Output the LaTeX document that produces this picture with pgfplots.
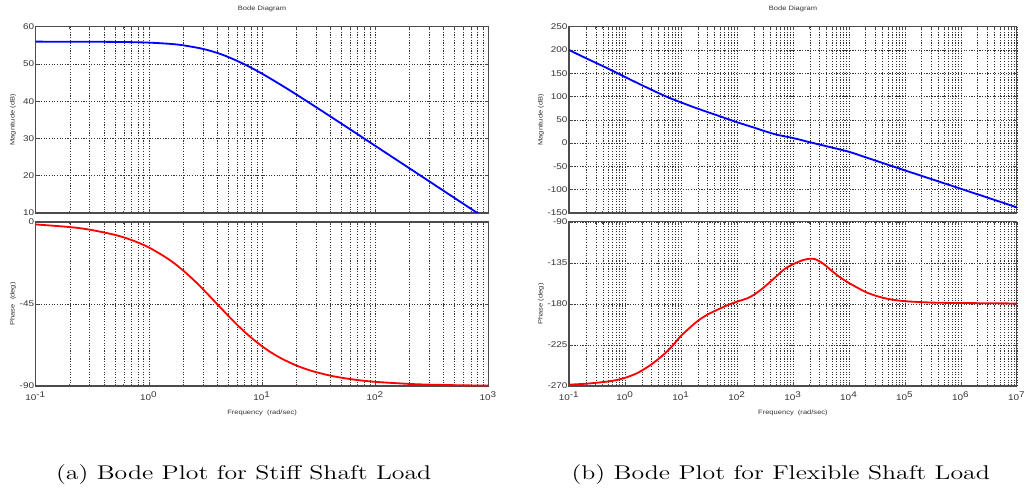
\documentclass[border=0pt]{standalone}
\usepackage{fontspec}
\usepackage{pgfplots}
\pgfplotsset{compat=1.18}
\newfontfamily\mfont{Liberation Sans}[FakeStretch=1.2]
\newfontfamily\capfont{lmroman12-regular}[Extension=.otf, FakeStretch=1.3]

\pgfplotsset{
  bode/.style={
    scale only axis,
    /pgf/number format/assume math mode=true,
    axis line style={black!70, line width=0.8pt},
    grid=both,
    major grid style={black!80, line width=0.35pt, dash pattern=on 0.7pt off 0.9pt},
    minor grid style={black!80, line width=0.35pt, dash pattern=on 0.7pt off 0.9pt},
    tick align=inside, tick pos=both,
    major tick length=2.2pt, minor tick length=1.2pt,
    tick style={black!70, line width=0.4pt},
    tick label style={font=\mfont\fontsize{5}{6}\selectfont, text=black!80},
    yticklabel style={inner sep=0.8pt},
    label style={font=\mfont\fontsize{3.8}{4.5}\selectfont, text=black!80},
    title style={font=\mfont\fontsize{3.8}{4.5}\selectfont, text=black!80},
  },
}

\begin{document}
\begin{tikzpicture}
\path (0,0) rectangle (618.6pt,-292.8pt);

% (a) stiff shaft
\begin{semilogxaxis}[bode, at={(21.6pt,-125pt)}, anchor=south west,
    width=273.6pt, height=112.56pt,
    xmin=0.1, xmax=1000, ymin=10, ymax=60,
    xtick={0.1,1,10,100,1000}, xticklabels={},
    minor xtick={0.2,0.3,0.4,0.5,0.6,0.7,0.8,0.9,2,3,4,5,6,7,8,9,20,30,40,50,60,70,80,90,200,300,400,500,600,700,800,900},
    ytick={10,20,30,40,50,60},
    title={Bode Diagram}, title style={at={(axis description cs:0.5,1.045)}, anchor=center},
    ylabel={Magnitude (dB)}, ylabel style={at={(axis description cs:-0.05,0.5)}, anchor=center}]
\addplot[blue, line width=1.1pt, smooth] coordinates {
 (0.1,56.00) (0.2,55.99) (0.3,55.98) (0.5,55.93) (0.7,55.87) (1,55.74) (1.5,55.43)
 (2,55.03) (3,54.06) (4,52.99) (5,51.91) (7,49.91) (10,47.40) (15,44.22) (20,41.85)
 (30,38.42) (50,34.03) (70,31.13) (100,28.03) (200,22.02) (300,18.50) (500,14.06)
 (700,11.14) (1000,8.04)};
\end{semilogxaxis}

\begin{semilogxaxis}[bode, at={(21.6pt,-229.6pt)}, anchor=south west,
    width=273.6pt, height=99.24pt,
    xmin=0.1, xmax=1000, ymin=-90, ymax=0,
    xtick={0.1,1,10,100,1000},
    xticklabels={10\textsuperscript{-1},10\textsuperscript{0},10\textsuperscript{1},10\textsuperscript{2},10\textsuperscript{3}},
    minor xtick={0.2,0.3,0.4,0.5,0.6,0.7,0.8,0.9,2,3,4,5,6,7,8,9,20,30,40,50,60,70,80,90,200,300,400,500,600,700,800,900},
    ytick={-90,-45,0},
    xlabel={Frequency\ \ (rad/sec)}, xlabel style={at={(axis description cs:0.5,-0.163)}, anchor=center},
    ylabel={Phase\ \ (deg)}, ylabel style={at={(axis description cs:-0.05,0.5)}, anchor=center}]
\addplot[red, line width=1.1pt, smooth] coordinates {
 (0.1,-1.43) (0.2,-2.86) (0.3,-4.29) (0.5,-7.13) (0.7,-9.93) (1,-14.04) (1.5,-20.56)
 (2,-26.57) (2.5,-32.01) (3,-36.87) (4,-45) (5,-51.34) (6,-56.31) (7,-60.26) (8,-63.43)
 (10,-68.20) (12,-71.57) (15,-75.07) (20,-78.69) (25,-80.91)
 (30,-82.41) (40,-84.29) (50,-85.43) (70,-86.73) (100,-87.71) (200,-88.85) (300,-89.24) (500,-89.54)
 (700,-89.67) (1000,-89.77)};
\end{semilogxaxis}

% (b) flexible shaft
\begin{semilogxaxis}[bode, at={(344pt,-125pt)}, anchor=south west,
    width=270.6pt, height=112.56pt,
    xmin=0.1, xmax=1e7, ymin=-150, ymax=250,
    xtick={0.1,1,10,100,1000,1e4,1e5,1e6,1e7}, xticklabels={},
    minor xtick={0.2,0.3,0.4,0.5,0.6,0.7,0.8,0.9,2,3,4,5,6,7,8,9,20,30,40,50,60,70,80,90,200,300,400,500,600,700,800,900,
      2000,3000,4000,5000,6000,7000,8000,9000,2e4,3e4,4e4,5e4,6e4,7e4,8e4,9e4,2e5,3e5,4e5,5e5,6e5,7e5,8e5,9e5,2e6,3e6,4e6,5e6,6e6,7e6,8e6,9e6},
    ytick={-150,-100,-50,0,50,100,150,200,250},
    title={Bode Diagram}, title style={at={(axis description cs:0.5,1.045)}, anchor=center},
    ylabel={Magnitude (dB)}, ylabel style={at={(axis description cs:-0.063,0.5)}, anchor=center}]
\addplot[blue, line width=1.1pt, smooth] coordinates {
 (0.1,200) (0.2,182.5) (0.5,160) (1,142) (2,124.5) (5,102) (10,87.5) (20,74) (50,57.5)
 (100,45) (200,33.5) (300,26.5) (500,18.5) (1000,11) (2000,2) (5000,-9.5) (10000,-18.5)
 (20000,-30.5) (50000,-46.5) (1e5,-58.5) (1e6,-98) (1e7,-138)};
\end{semilogxaxis}

\begin{semilogxaxis}[bode, at={(344pt,-229.6pt)}, anchor=south west,
    width=270.6pt, height=99.24pt,
    xmin=0.1, xmax=1e7, ymin=-270, ymax=-90,
    xtick={0.1,1,10,100,1000,1e4,1e5,1e6,1e7},
    xticklabels={10\textsuperscript{-1},10\textsuperscript{0},10\textsuperscript{1},10\textsuperscript{2},10\textsuperscript{3},10\textsuperscript{4},10\textsuperscript{5},10\textsuperscript{6},10\textsuperscript{7}},
    minor xtick={0.2,0.3,0.4,0.5,0.6,0.7,0.8,0.9,2,3,4,5,6,7,8,9,20,30,40,50,60,70,80,90,200,300,400,500,600,700,800,900,
      2000,3000,4000,5000,6000,7000,8000,9000,2e4,3e4,4e4,5e4,6e4,7e4,8e4,9e4,2e5,3e5,4e5,5e5,6e5,7e5,8e5,9e5,2e6,3e6,4e6,5e6,6e6,7e6,8e6,9e6},
    ytick={-270,-225,-180,-135,-90},
    xlabel={Frequency\ \ (rad/sec)}, xlabel style={at={(axis description cs:0.5,-0.163)}, anchor=center},
    ylabel={Phase (deg)}, ylabel style={at={(axis description cs:-0.063,0.5)}, anchor=center}]
\addplot[red, line width=1.1pt, smooth] coordinates {
 (0.1,-268.5) (0.2,-267.5) (0.3,-266.5) (0.5,-265) (0.7,-263.5) (1,-261) (1.5,-257)
 (2,-253) (3,-246) (5,-235) (7,-226) (10,-215) (15,-205) (20,-198.5) (30,-191.5) (50,-185)
 (70,-181) (100,-177.5) (150,-174) (200,-170) (300,-162) (500,-150) (700,-142)
 (1000,-136.5) (1500,-132) (2000,-130.5) (2500,-131) (3500,-136) (5000,-144) (7000,-151)
 (10000,-157) (15000,-163) (20000,-167) (30000,-171) (50000,-174.5) (1e5,-177)
 (3e5,-178.5) (1e6,-179) (1e7,-179.5)};
\end{semilogxaxis}

\node[anchor=base, font=\capfont\fontsize{12}{14}\selectfont] at (147.3pt,-286.2pt) {(a) Bode Plot for Stiff Shaft Load};
\node[anchor=base, font=\capfont\fontsize{12}{14}\selectfont] at (471.9pt,-286.2pt) {(b) Bode Plot for Flexible Shaft Load};
\end{tikzpicture}
\end{document}
